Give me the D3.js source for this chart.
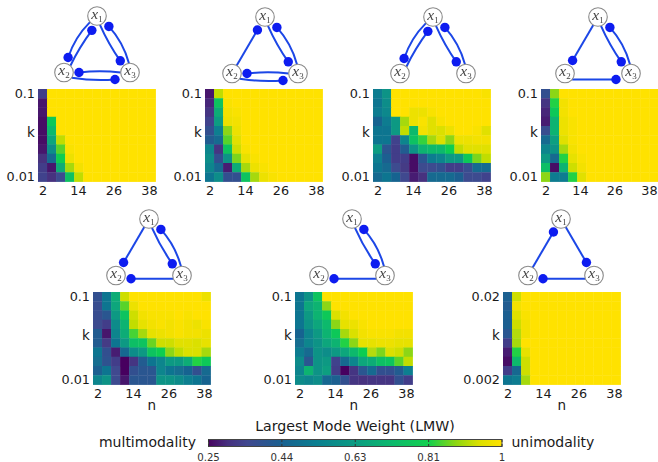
<!DOCTYPE html>
<html><head><meta charset="utf-8">
<style>html,body{margin:0;padding:0;background:#fff}svg{display:block}text{font-family:"DejaVu Sans",sans-serif;fill:#1a1a1a}</style>
<script src="https://cdn.jsdelivr.net/npm/d3@7"></script></head><body><div id="c"></div>
<script>
const nValues=[2,5,8,11,14,17,20,23,26,29,32,35,38];
const nTicks=[2,14,26,38];
const rowIndex=[0,1,2,3,4,5,6,7,8,9];
const legendTicks=[0.25,0.44,0.63,0.81,1];
const f=1;
const lmw1=[
[.33,f,f,f,f,f,f,f,f,f,f,f,f],
[.27,f,f,f,f,f,f,f,f,f,f,f,f],
[.27,f,f,f,f,f,f,f,f,f,f,f,f],
[.26,.78,f,f,f,f,f,f,f,f,f,f,f],
[.26,.72,f,f,f,f,f,f,f,f,f,f,f],
[.26,.66,.92,f,f,f,f,f,f,f,f,f,f],
[.27,.58,.85,.99,f,f,f,f,f,f,f,f,f],
[.30,.47,.80,.97,f,f,f,f,f,f,f,f,f],
[.33,.27,.68,.90,.98,f,f,f,f,f,f,f,f],
[.34,.30,.36,.75,.92,f,f,f,f,f,f,f,f]];
const lmw2=[
[.27,.92,f,f,f,f,f,f,f,f,f,f,f],
[.29,.76,.99,f,f,f,f,f,f,f,f,f,f],
[.31,.68,.98,.99,f,f,f,f,f,f,f,f,f],
[.34,.63,.97,.98,f,f,f,f,f,f,f,f,f],
[.38,.53,.88,.97,f,f,f,f,f,f,f,f,f],
[.42,.47,.85,.95,f,f,f,f,f,f,f,f,f],
[.55,.31,.76,.93,.99,f,f,f,f,f,f,f,f],
[.58,.38,.60,.87,.96,.99,f,f,f,f,f,f,f],
[.55,.47,.28,.68,.90,.97,.99,f,f,f,f,f,f],
[.50,.58,.38,.38,.76,.90,.97,.99,f,f,f,f,f]];
const lmw3=[
[.52,.60,f,f,f,f,f,f,f,f,f,f,.99],
[.50,.58,f,f,f,f,f,f,f,f,f,f,f],
[.52,.56,f,f,.97,.97,.99,f,f,f,f,f,f],
[.45,.52,.62,.90,.97,.99,.95,.99,f,f,f,f,f],
[.50,.50,.62,.92,.72,.98,.95,.94,.97,f,f,.99,.95],
[.50,.50,.34,.55,.75,.83,.90,.94,.88,.97,.97,.98,.98],
[.63,.40,.33,.42,.60,.70,.72,.72,.80,.92,.95,.95,.95],
[.53,.43,.33,.33,.26,.40,.52,.55,.62,.62,.78,.87,.92],
[.50,.47,.36,.32,.26,.36,.36,.38,.33,.33,.37,.47,.47],
[.47,.50,.45,.35,.28,.30,.47,.47,.47,.43,.36,.36,.34]];
const lmw4=[
[.38,.88,f,f,f,f,f,f,f,f,f,f,f],
[.31,.82,.98,f,f,f,f,f,f,f,f,f,f],
[.29,.78,.98,f,f,f,f,f,f,f,f,f,f],
[.28,.70,.97,.99,f,f,f,f,f,f,f,f,f],
[.37,.70,.97,.99,f,f,f,f,f,f,f,f,f],
[.47,.64,.95,.99,f,f,f,f,f,f,f,f,f],
[.55,.60,.90,.98,f,f,f,f,f,f,f,f,f],
[.62,.47,.82,.96,.99,f,f,f,f,f,f,f,f],
[.74,.26,.70,.93,.98,f,f,f,f,f,f,f,f],
[.88,.52,.52,.82,.95,f,f,f,f,f,f,f,f]];
const lmw5=[
[.38,.50,.68,.93,f,f,f,f,f,f,f,f,.97],
[.37,.50,.66,.85,.97,f,f,f,f,f,f,f,f],
[.37,.40,.62,.76,.93,.98,.99,.99,.99,f,.99,f,f],
[.36,.33,.57,.70,.92,.96,.98,.99,.98,.99,.98,.97,.99],
[.42,.27,.55,.68,.84,.90,.96,.97,.98,.99,.98,.98,.97],
[.42,.32,.50,.62,.74,.76,.86,.93,.93,.95,.95,.94,.96],
[.50,.38,.28,.46,.58,.62,.76,.80,.88,.92,.94,.94,.90],
[.48,.39,.33,.25,.31,.42,.50,.55,.62,.62,.68,.82,.78],
[.44,.50,.35,.25,.38,.40,.40,.55,.50,.48,.45,.38,.47],
[.55,.60,.36,.27,.40,.40,.40,.60,.60,.57,.53,.50,.45]];
const lmw6=[
[.50,.60,.76,f,f,f,f,f,f,f,f,f,f],
[.50,.66,.70,.88,f,f,f,f,f,f,f,f,f],
[.50,.62,.70,.78,.94,.98,f,f,f,f,f,f,f],
[.50,.60,.66,.72,.88,.96,.97,.99,f,f,f,f,f],
[.45,.55,.62,.70,.78,.90,.94,.98,.99,.99,.99,.98,.98],
[.48,.55,.60,.66,.70,.82,.88,.96,.96,.97,.97,.96,.96],
[.52,.47,.60,.58,.62,.66,.72,.80,.91,.87,.94,.93,.88],
[.57,.40,.60,.62,.34,.47,.55,.66,.68,.74,.76,.85,.92],
[.55,.70,.60,.64,.33,.25,.31,.40,.47,.38,.38,.42,.53],
[.57,.55,.58,.46,.44,.38,.31,.30,.31,.31,.31,.38,.33]];
const lmw7=[
[.44,.93,f,f,f,f,f,f,f,f,f,f,f],
[.42,.98,f,f,f,f,f,f,f,f,f,f,f],
[.43,.95,.99,f,f,f,f,f,f,f,f,f,f],
[.43,.93,.98,f,f,f,f,f,f,f,f,f,f],
[.40,.91,.98,f,f,f,f,f,f,f,f,f,f],
[.33,.90,f,f,f,f,f,f,f,f,f,f,f],
[.28,.82,.96,f,f,f,f,f,f,f,f,f,f],
[.26,.72,.93,f,f,f,f,f,f,f,f,f,f],
[.33,.46,.93,f,f,f,f,f,f,f,f,f,f],
[.50,.52,.90,f,f,f,f,f,f,f,f,f,f]];
// directed regulation edges per motif: [source, target]
const edges1=[[1,2],[2,1],[1,3],[3,1],[3,2],[2,3]];
const edges2=[[2,1],[1,3],[3,1],[3,2],[2,3]];
const edges3=[[1,2],[2,1],[1,3],[3,1]];
const edges4=[[1,2],[1,3],[3,1],[2,3]];
const edges5=[[1,2],[1,3],[3,1],[3,2]];
const edges6=[[1,3],[3,1],[3,2]];
const edges7=[[2,1],[1,3],[3,2]];

const panels=[
 {d:lmw1,e:edges1,k:["0.1","0.01"],x:38,y:89,gx:97,gy:16,n:false},
 {d:lmw2,e:edges2,k:["0.1","0.01"],x:205,y:89,gx:265,gy:17,n:false},
 {d:lmw3,e:edges3,k:["0.1","0.01"],x:373,y:89,gx:433,gy:17,n:false},
 {d:lmw4,e:edges4,k:["0.1","0.01"],x:541,y:89,gx:598,gy:17,n:false,shift:3},
 {d:lmw5,e:edges5,k:["0.1","0.01"],x:93,y:292,gx:149,gy:219,n:true},
 {d:lmw6,e:edges6,k:["0.1","0.01"],x:295,y:292,gx:352,gy:219,n:true},
 {d:lmw7,e:edges7,k:["0.02","0.002"],x:503,y:292,gx:561,gy:219,n:true}];

const W=658,H=462,pw=117.5,ph=92.5;
const colorStops=[[.25,"#47045f"],[.30,"#46307f"],[.35,"#40488f"],[.44,"#1a6190"],[.53,"#0a7f90"],[.63,"#0b9c82"],[.72,"#0cb96c"],[.81,"#12d04e"],[.88,"#8cd612"],[.94,"#dbe000"],[1,"#ffe200"]];
const color=d3.scaleLinear().domain(colorStops.map(s=>s[0])).range(colorStops.map(s=>s[1])).interpolate(d3.interpolateRgb);

const svg=d3.select("#c").append("svg").attr("width",W).attr("height",H);
const defs=svg.append("defs");
defs.append("filter").attr("id","soft").attr("x","-5%").attr("y","-5%").attr("width","110%").attr("height","110%").append("feGaussianBlur").attr("stdDeviation",.55);
defs.append("filter").attr("id","softer").attr("x","-10%").attr("y","-10%").attr("width","120%").attr("height","120%").append("feGaussianBlur").attr("stdDeviation",.4);

panels.forEach(p=>{
  const g=svg.append("g").attr("transform",`translate(${p.x},${p.y})`);
  const x=d3.scaleBand().domain(nValues).range([0,pw]);
  const y=d3.scaleBand().domain(rowIndex).range([0,ph]);
  const cells=g.append("g").attr("filter","url(#soft)");
  rowIndex.forEach(r=>{
    cells.selectAll(null).data(p.d[r]).join("rect")
      .attr("x",(v,i)=>x(nValues[i])).attr("y",y(r))
      .attr("width",x.bandwidth()+.4).attr("height",y.bandwidth()+.4)
      .attr("fill",v=>color(v));
  });
  const xt=d3.scaleLinear().domain([2,38]).range([x.bandwidth()/2,pw-x.bandwidth()/2-2-(p.shift||0)]);
  const ax=g.append("g").attr("transform",`translate(0,${ph})`)
    .call(d3.axisBottom(xt).tickValues(nTicks).tickFormat(d3.format("d")).tickSize(0).tickPadding(4.5));
  ax.select(".domain").remove();
  ax.selectAll("text").attr("font-size",12.8).style("font-family",'"DejaVu Sans"').attr("fill","#1a1a1a");
  const ay=g.append("g").call(d3.axisLeft(y).tickValues([0,9]).tickFormat(i=>p.k[i?1:0]).tickSize(0).tickPadding(3));
  ay.select(".domain").remove();
  ay.selectAll("text").attr("font-size",12.8).style("font-family",'"DejaVu Sans"').attr("fill","#1a1a1a");
  g.append("text").attr("x",-7).attr("y",ph/2-3).attr("text-anchor","middle").attr("dominant-baseline","central").attr("font-size",13.5).text("k");
  if(p.n) g.append("text").attr("x",pw/2).attr("y",ph+20).attr("text-anchor","middle").attr("dominant-baseline","central").attr("font-size",13.5).text("n");
  drawMotif(p);
});

function drawMotif(p){
  const g=svg.append("g").attr("transform",`translate(${p.gx},${p.gy})`).attr("filter","url(#softer)");
  const R=9.3,Dx=33,Dy=56.5;
  const pos={1:[0,0],2:[-Dx,Dy],3:[Dx,Dy]};
  const offPair={"1-2":4,"2-1":-2.8,"1-3":-2.5,"3-1":5,"3-2":0,"2-3":7};
  const offSingle={"3-2":3.2,"2-3":6};
  const bulgePair={"1-2":5,"2-1":2,"1-3":-2,"3-1":5,"3-2":-2.5,"2-3":2.5};
  const has=(a,b)=>p.e.some(e=>e[0]===a&&e[1]===b);
  const line=g.append("g"), dots=g.append("g");
  p.e.forEach(([a,b])=>{
    const A=pos[a],B=pos[b];
    const dx=B[0]-A[0],dy=B[1]-A[1],L=Math.hypot(dx,dy),u=[dx/L,dy/L];
    const mid=[(A[0]+B[0])/2,(A[1]+B[1])/2];
    const c=[0,Dy*0.66];
    let nv=[-u[1],u[0]];
    if((mid[0]+nv[0]-c[0])**2+(mid[1]+nv[1]-c[1])**2<(mid[0]-c[0])**2+(mid[1]-c[1])**2) nv=[-nv[0],-nv[1]]; // outward normal
    const key=a+"-"+b, pair=has(b,a);
    const off=pair?offPair[key]:(offSingle[key]||0);
    const so=pair?off*.75:off, along=Math.sqrt(R*R-so*so);
    const start=[A[0]+u[0]*along+nv[0]*so,A[1]+u[1]*along+nv[1]*so];
    const end=[B[0]-u[0]*15+nv[0]*off,B[1]-u[1]*15+nv[1]*off];
    const bulge=pair?bulgePair[key]:0;
    const m=[(start[0]+end[0])/2+nv[0]*bulge,(start[1]+end[1])/2+nv[1]*bulge];
    line.append("path").attr("d",`M${start}Q${m} ${end}`).attr("fill","none").attr("stroke","#1c46e6").attr("stroke-width",2);
    dots.append("circle").attr("cx",end[0]).attr("cy",end[1]).attr("r",4.7).attr("fill","#0f1ff0");
  });
  [1,2,3].forEach(i=>{
    const q=g.append("g").attr("transform",`translate(${pos[i]})`);
    q.append("circle").attr("r",R).attr("fill","#fff").attr("stroke","#8a8a8a").attr("stroke-width",1.1);
    const t=q.append("text").attr("text-anchor","middle").attr("y",2.5).style("font-family",'"Liberation Serif",serif').style("fill","#444").attr("font-size",15.5).attr("font-style","italic");
    t.append("tspan").text("x");
    t.append("tspan").attr("font-size",9).attr("font-style","normal").attr("dy",3).text(i);
  });
}

// colour bar
const cb=d3.scaleLinear().domain([0,4]).range([208.5,502]);
const grad=defs.append("linearGradient").attr("id","lmwGrad");
const cbPos=d3.scaleLinear().domain(legendTicks).range(legendTicks.map((_,i)=>i/4));
colorStops.forEach(s=>grad.append("stop").attr("offset",cbPos(s[0])).attr("stop-color",s[1]));
svg.append("rect").attr("x",cb(0)).attr("y",439.5).attr("width",cb(4)-cb(0)).attr("height",7).attr("fill","url(#lmwGrad)").attr("stroke","#444").attr("stroke-width",1);
legendTicks.forEach((t,i)=>{
  svg.append("line").attr("x1",cb(i)).attr("x2",cb(i)).attr("y1",439.5).attr("y2",442).attr("stroke","#333");
  svg.append("line").attr("x1",cb(i)).attr("x2",cb(i)).attr("y1",444).attr("y2",446.5).attr("stroke","#333");
  svg.append("text").attr("x",cb(i)).attr("y",457.5).attr("text-anchor","middle").attr("dominant-baseline","central").attr("font-size",10.2).style("fill","#333").text(d3.format("~g")(t));
});
svg.append("text").attr("x",355).attr("y",425.5).attr("text-anchor","middle").attr("dominant-baseline","central").attr("font-size",14.2).text("Largest Mode Weight (LMW)");
svg.append("text").attr("x",196).attr("y",442).attr("text-anchor","end").attr("dominant-baseline","central").attr("font-size",14).text("multimodality");
svg.append("text").attr("x",511.5).attr("y",442).attr("dominant-baseline","central").attr("font-size",14).text("unimodality");
</script></body></html>
